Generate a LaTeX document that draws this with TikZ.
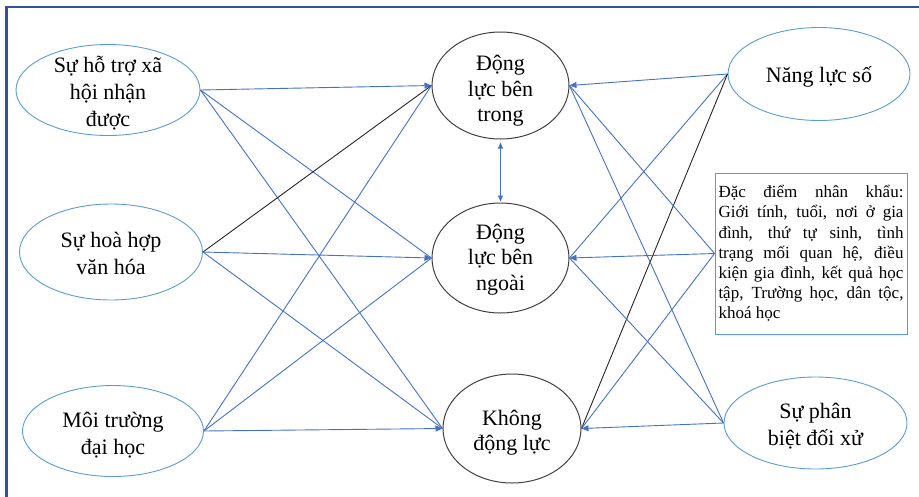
\documentclass[tikz,border=0pt]{standalone}
\usepackage{fontspec}
\setmainfont{Liberation Serif}
\usetikzlibrary{shapes.geometric,arrows.meta}
\definecolor{framecol}{HTML}{2F5597}
\definecolor{linecol}{HTML}{4472C4}
\definecolor{lightcol}{HTML}{5B9BD5}
\definecolor{midcol}{HTML}{404040}
\definecolor{darkline}{HTML}{262626}
\tikzset{
  outer/.style={ellipse, draw=lightcol, line width=0.9pt, inner sep=0pt},
  inner/.style={ellipse, draw=midcol, line width=1pt, inner sep=0pt},
  outertext/.style={inner sep=0pt, align=center, font=\fontsize{22}{26.8}\selectfont},
  innertext/.style={inner sep=0pt, align=center, font=\fontsize{22}{25.3}\selectfont},
  demobox/.style={rectangle, draw=lightcol, line width=0.9pt, inner xsep=3.5pt, inner ysep=0pt,
    text width=185pt, minimum height=161pt, align=justify,
    font=\fontsize{17}{20.2}\selectfont},
  link/.style={draw=linecol, line width=0.9pt},
  blacklink/.style={draw=darkline, line width=0.9pt},
  arr/.style={-{Triangle[length=7pt,width=6pt]}},
}
\begin{document}
\begin{tikzpicture}[x=1pt,y=-1pt]
\useasboundingbox (0,0) rectangle (919,496);
\draw[framecol, line width=2.6pt] (6.5,520) -- (6.5,7) -- (940,7);
% left
\node[outer, minimum width=184pt, minimum height=91pt] (l1) at (108,90) {};
\node[outertext] (l1t) at (108,93) {Sự hỗ trợ xã\\hội nhận\\được};
\node[outer, minimum width=183pt, minimum height=96pt] (l2) at (111,252) {};
\node[outertext] (l2t) at (111,253.5) {Sự hoà hợp\\văn hóa};
\node[outer, minimum width=181pt, minimum height=91pt] (l3) at (113,431) {};
\node[outertext] (l3t) at (113,435) {Môi trường\\đại học};
% middle
\node[inner, minimum width=137pt, minimum height=107pt] (m1) at (500.5,85.5) {};
\node[innertext] (m1t) at (500.5,91) {Động\\lực bên\\trong};
\node[inner, minimum width=137pt, minimum height=110pt] (m2) at (500.5,258) {};
\node[innertext] (m2t) at (500.5,259.5) {Động\\lực bên\\ngoài};
\node[inner, minimum width=138pt, minimum height=109pt] (m3) at (512,428.5) {};
\node[innertext] (m3t) at (512,432.5) {Không\\động lực};
% right
\node[outer, minimum width=182pt, minimum height=93pt] (r1) at (819,74) {};
\node[outertext] (r1t) at (819,76.5) {Năng lực số};
\node[demobox] (r2) at (811,253.5) {Đặc điểm nhân khẩu:\linebreak Giới tính, tuổi, nơi ở gia\linebreak đình, thứ tự sinh, tình\linebreak trạng mối quan hệ, điều\linebreak kiện gia đình, kết quả học\linebreak tập, Trường học, dân tộc,\linebreak khoá học};
\node[outer, minimum width=183pt, minimum height=92pt] (r3) at (815.5,423) {};
\node[outertext] (r3t) at (815.5,426) {Sự phân\\biệt đối xử};
% left connectors
\draw[link, arr] (l1.east) -- (m1.west);
\draw[link] (l1.east) -- (m2.west);
\draw[link] (l1.east) -- (m3.west);
\draw[blacklink] (l2.east) -- (m1.west);
\draw[link, arr] (l2.east) -- (m2.west);
\draw[link] (l2.east) -- (m3.west);
\draw[link] (l3.east) -- (m1.west);
\draw[link] (l3.east) -- (m2.west);
\draw[link, arr] (l3.east) -- (m3.west);
% right connectors
\draw[link, arr] (r1.west) -- (m1.east);
\draw[link] (r1.west) -- (m2.east);
\draw[blacklink] (r1.west) -- (m3.east);
\draw[link] (r2.west) -- (m1.east);
\draw[link, arr] (r2.west) -- (m2.east);
\draw[link] (r2.west) -- (m3.east);
\draw[link] (r3.west) -- (m1.east);
\draw[link] (r3.west) -- (m2.east);
\draw[link, arr] (r3.west) -- (m3.east);
% between middle
\draw[link, {Triangle[length=6pt,width=5pt]}-{Triangle[length=6pt,width=5pt]}, shorten <=3pt, shorten >=1pt] (m1.south) -- (m2.north);
\end{tikzpicture}
\end{document}
